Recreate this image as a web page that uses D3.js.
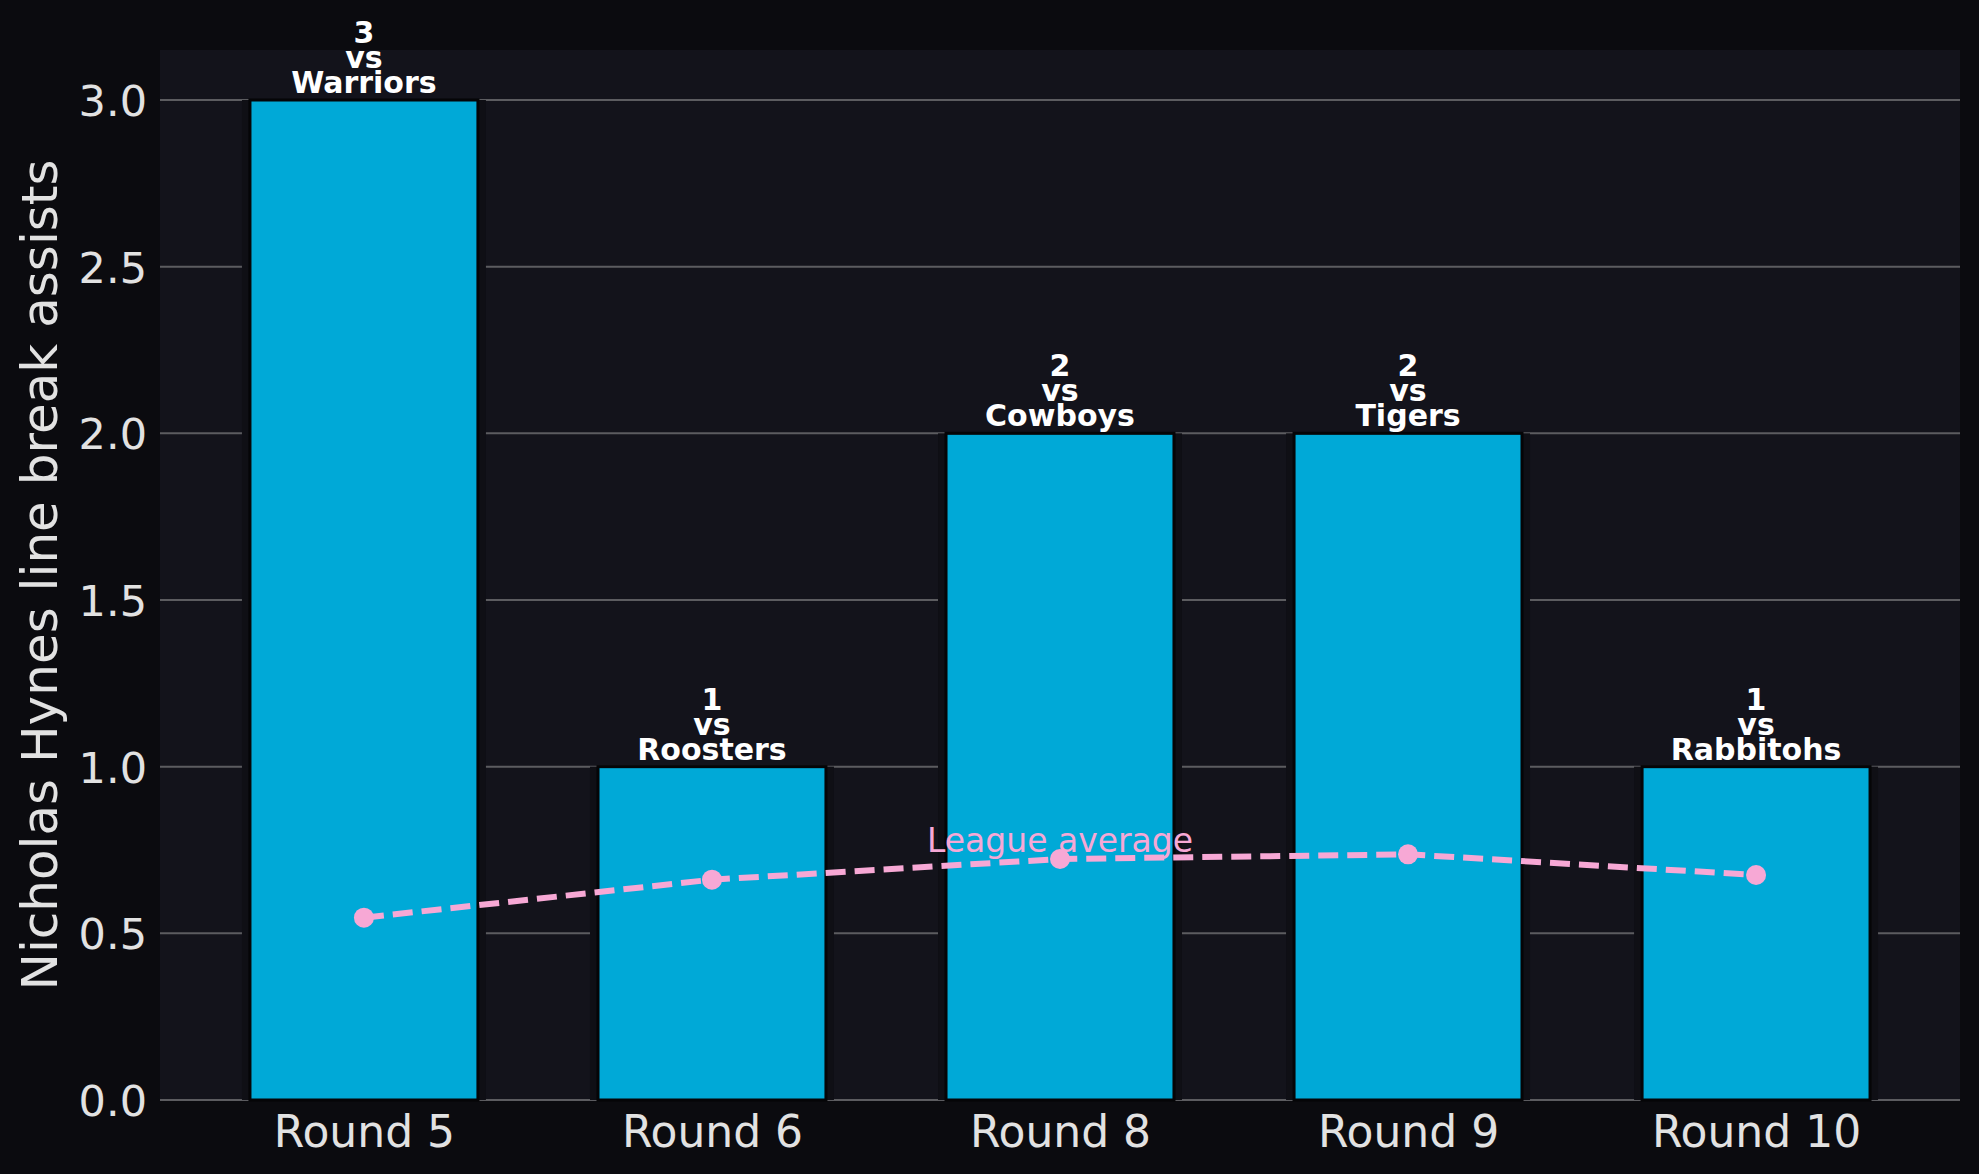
<!DOCTYPE html>
<html>
<head>
<meta charset="utf-8">
<script src="https://cdn.jsdelivr.net/npm/d3@7"></script>
<style>
  html, body { margin: 0; padding: 0; background: #0b0b0f; }
  text { font-family: "DejaVu Sans", sans-serif; }
</style>
</head>
<body>
<div id="chart"></div>
<script>
// data
const rounds = ["Round 5", "Round 6", "Round 8", "Round 9", "Round 10"]
const assists = [3, 1, 2, 2, 1]
const opponents = ["Warriors", "Roosters", "Cowboys", "Tigers", "Rabbitohs"]
const leagueAvg = [0.547, 0.661, 0.723, 0.737, 0.675]
const yTicks = [0, 0.5, 1.0, 1.5, 2.0, 2.5, 3.0]

const W = 1979, H = 1174
const margin = {top: 50, right: 19, bottom: 74, left: 160},
    width = W - margin.left - margin.right,
    height = H - margin.top - margin.bottom;

const svg = d3.select("#chart")
  .append("svg")
    .attr("width", W)
    .attr("height", H)

svg.append("rect")
  .attr("width", W).attr("height", H)
  .attr("fill", "#0b0b0f")

const g = svg.append("g")
  .attr("transform", `translate(${margin.left},${margin.top})`)

// plot background
g.append("rect")
  .attr("width", width).attr("height", height)
  .attr("fill", "#13131b")

const x = d3.scalePoint()
  .domain(rounds)
  .range([0, width])
  .padding(0.586)

const step = x.step()
const barW = step * 0.655

const y = d3.scaleLinear()
  .domain([0, 3.15])
  .range([height, 0])

// grid lines
g.append("g")
  .selectAll("line")
  .data(yTicks)
  .join("line")
    .attr("x1", 0).attr("x2", width)
    .attr("y1", d => y(d)).attr("y2", d => y(d))
    .attr("stroke", "#5c5c60")
    .attr("stroke-width", 2)

// y axis labels
const yAxis = g.append("g")
  .call(d3.axisLeft(y).tickValues(yTicks).tickFormat(d3.format(".1f")).tickSize(0).tickPadding(13))
yAxis.select(".domain").remove()
yAxis.selectAll("text")
  .attr("fill", "#e2e2e2")
  .style("font-size", "43px")
  .attr("dy", "0.36em")

// x axis labels
const xAxis = g.append("g")
  .attr("transform", `translate(0,${height})`)
  .call(d3.axisBottom(x).tickSize(0).tickPadding(16))
xAxis.select(".domain").remove()
xAxis.selectAll("text")
  .attr("fill", "#e2e2e2")
  .style("font-size", "44px")

// bar shadows
g.append("g")
  .selectAll("rect")
  .data(rounds)
  .join("rect")
    .attr("x", d => x(d) - barW / 2 - 8)
    .attr("width", barW + 16)
    .attr("y", (d, i) => y(assists[i]))
    .attr("height", (d, i) => height - y(assists[i]))
    .attr("fill", "#0f0f15")

// bars
g.append("g")
  .selectAll("rect")
  .data(rounds)
  .join("rect")
    .attr("x", d => x(d) - barW / 2)
    .attr("width", barW)
    .attr("y", (d, i) => y(assists[i]))
    .attr("height", (d, i) => height - y(assists[i]))
    .attr("fill", "#00a9d7")
    .attr("stroke", "#050507")
    .attr("stroke-width", 3)

// bar annotations
const ann = g.append("g")
  .selectAll("text")
  .data(rounds)
  .join("text")
    .attr("text-anchor", "middle")
    .attr("fill", "#ffffff")
    .style("font-size", "30px")
    .style("font-weight", "bold")
ann.each(function (d, i) {
  const lines = [String(assists[i]), "vs", opponents[i]]
  const base = y(assists[i]) - 7
  d3.select(this).selectAll("tspan")
    .data(lines)
    .join("tspan")
      .attr("x", x(d))
      .attr("y", (t, j) => base - (lines.length - 1 - j) * 25)
      .text(t => t)
})

// league average line
const line = d3.line()
  .x((d, i) => x(rounds[i]))
  .y(d => y(d))

g.append("path")
  .datum(leagueAvg)
  .attr("d", line)
  .attr("fill", "none")
  .attr("stroke", "#f7a8d5")
  .attr("stroke-width", 6)
  .attr("stroke-dasharray", "20,9")

g.append("g")
  .selectAll("circle")
  .data(leagueAvg)
  .join("circle")
    .attr("cx", (d, i) => x(rounds[i]))
    .attr("cy", d => y(d))
    .attr("r", 10)
    .attr("fill", "#f7a8d5")

g.append("text")
  .attr("x", x(rounds[2]))
  .attr("y", y(leagueAvg[2]) - 7)
  .attr("text-anchor", "middle")
  .attr("fill", "#f7a8d5")
  .style("font-size", "33px")
  .text("League average")

// y label
svg.append("text")
  .attr("transform", `translate(57,${margin.top + height / 2}) rotate(-90)`)
  .attr("text-anchor", "middle")
  .attr("fill", "#e2e2e2")
  .style("font-size", "50px")
  .text("Nicholas Hynes line break assists")
</script>
</body>
</html>
